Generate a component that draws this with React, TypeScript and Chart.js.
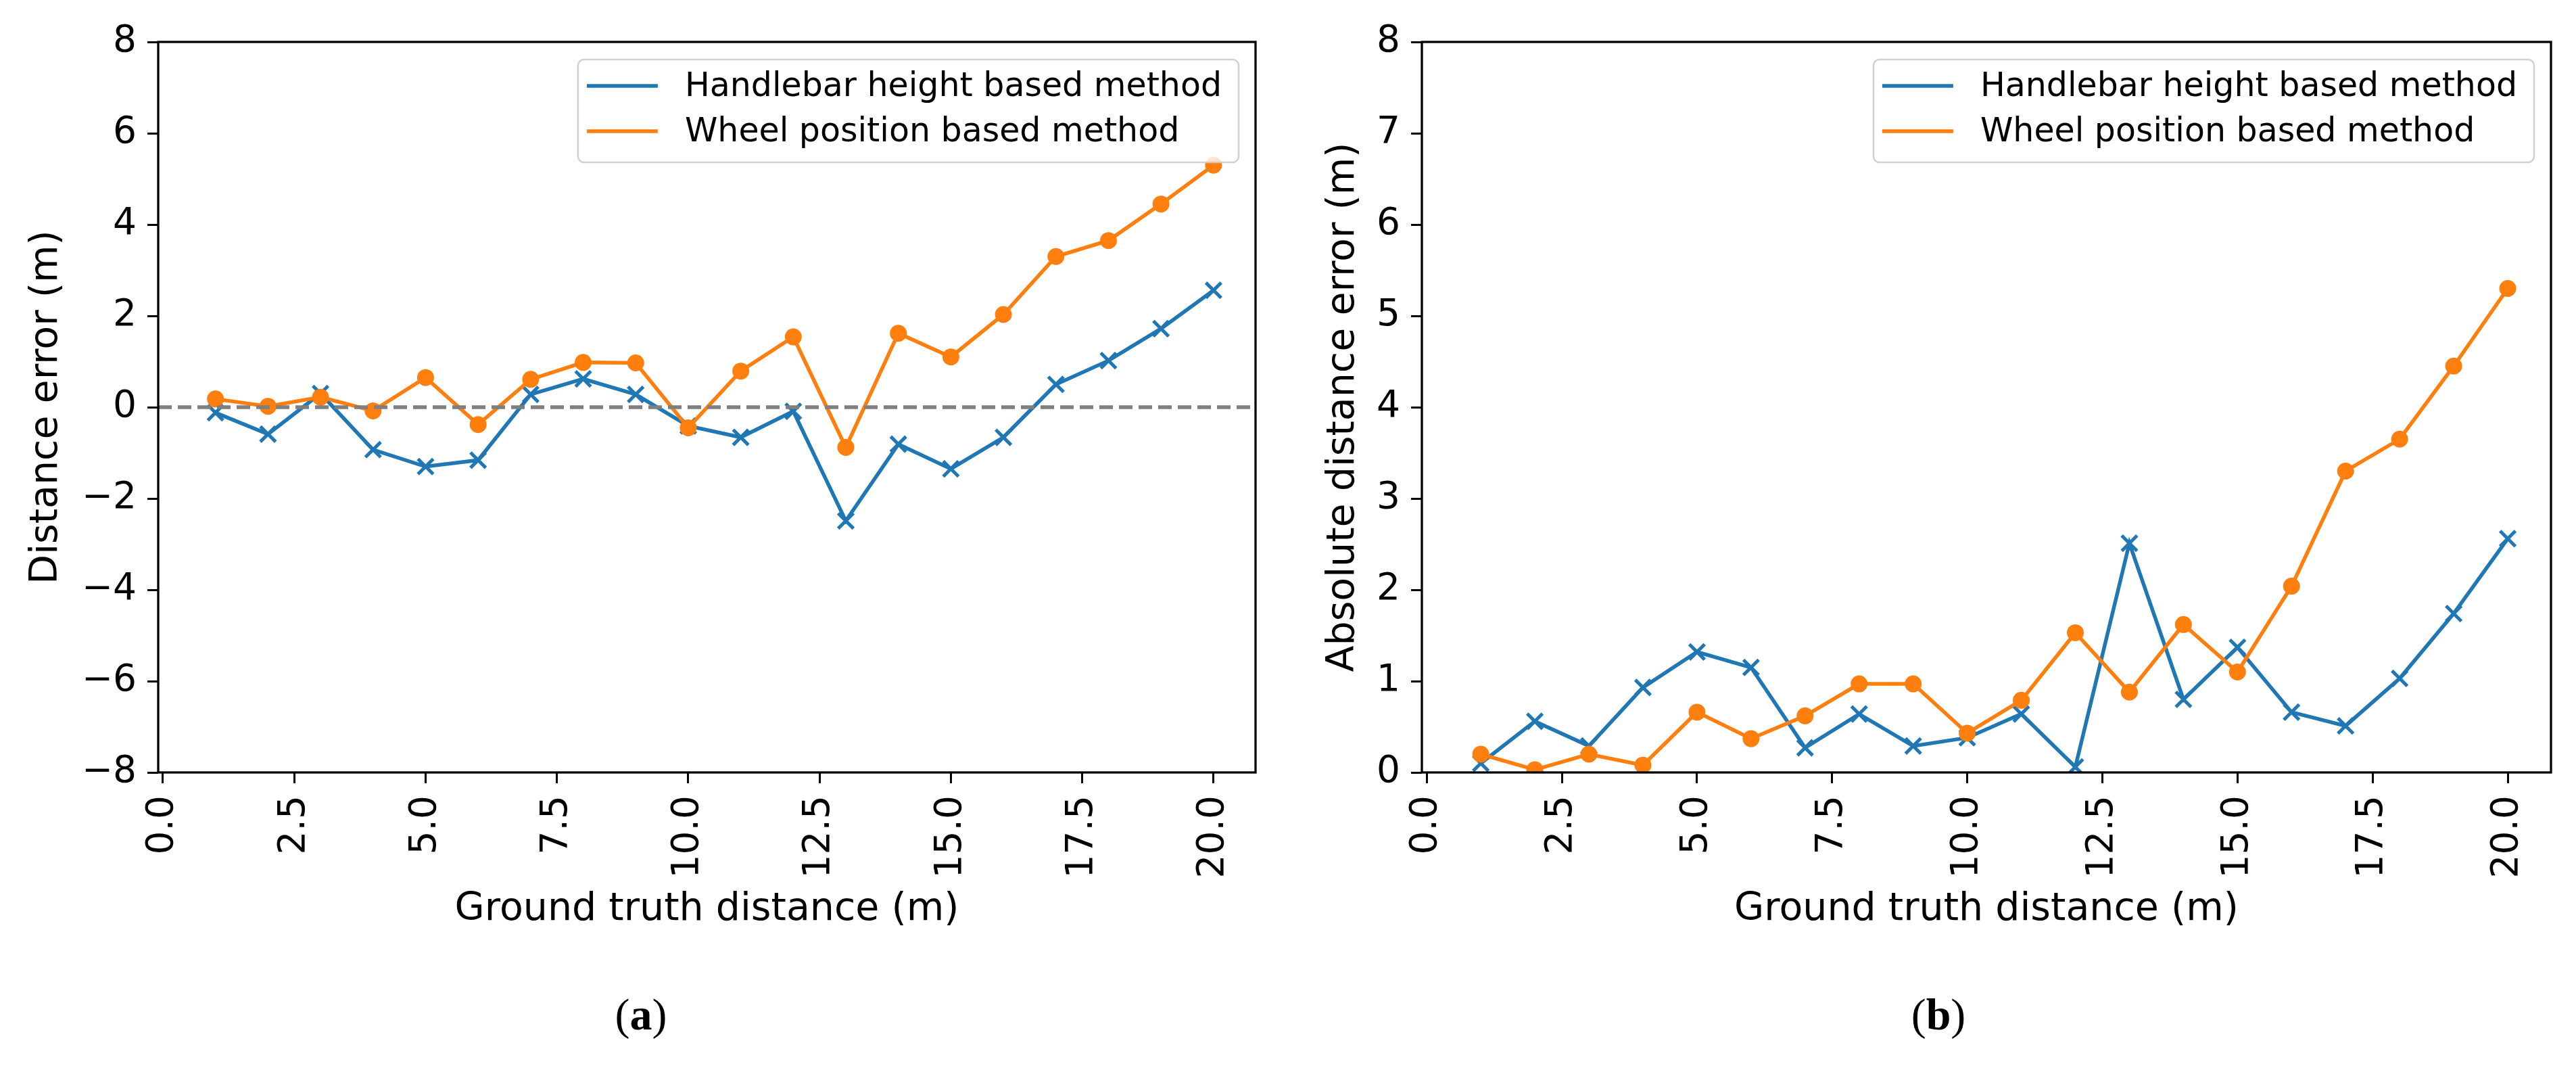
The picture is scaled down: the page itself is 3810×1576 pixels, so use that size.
import React, { useEffect, useRef } from 'react';
import { Chart, registerables } from 'chart.js';

Chart.register(...registerables);

// ---------- data ----------
const groundTruth = [1, 2, 3, 4, 5, 6, 7, 8, 9, 10, 11, 12, 13, 14, 15, 16, 17, 18, 19, 20];

// panel (a): signed distance error (m)
const handlebarError = [-0.12, -0.59, 0.3, -0.93, -1.3, -1.16, 0.28, 0.62, 0.28, -0.41, -0.66, -0.09, -2.49, -0.81, -1.35, -0.66, 0.5, 1.02, 1.72, 2.56];
const wheelError = [0.18, 0.02, 0.22, -0.08, 0.65, -0.38, 0.61, 0.98, 0.97, -0.45, 0.79, 1.54, -0.88, 1.62, 1.1, 2.03, 3.3, 3.65, 4.45, 5.3];

// panel (b): absolute distance error (m)
const handlebarAbsError = [0.1, 0.56, 0.29, 0.93, 1.32, 1.15, 0.27, 0.64, 0.29, 0.38, 0.64, 0.06, 2.51, 0.8, 1.37, 0.66, 0.51, 1.03, 1.74, 2.56];
const wheelAbsError = [0.2, 0.03, 0.2, 0.08, 0.66, 0.37, 0.62, 0.97, 0.97, 0.43, 0.79, 1.53, 0.88, 1.62, 1.1, 2.04, 3.3, 3.65, 4.45, 5.3];

const xTickValues = [0, 2.5, 5, 7.5, 10, 12.5, 15, 17.5, 20];
const xTickLabels = ['0.0', '2.5', '5.0', '7.5', '10.0', '12.5', '15.0', '17.5', '20.0'];

const yTicksA = [-8, -6, -4, -2, 0, 2, 4, 6, 8];
const yTickLabelsA = ['\u22128', '\u22126', '\u22124', '\u22122', '0', '2', '4', '6', '8'];
const yTicksB = [0, 1, 2, 3, 4, 5, 6, 7, 8];
const yTickLabelsB = ['0', '1', '2', '3', '4', '5', '6', '7', '8'];

const seriesNames = ['Handlebar height based method', 'Wheel position based method'];
const xAxisTitle = 'Ground truth distance (m)';
const yAxisTitleA = 'Distance error (m)';
const yAxisTitleB = 'Absolute distance error (m)';

// ---------- style ----------
const BLUE = '#1f77b4';
const ORANGE = '#ff7f0e';
const FONT = "'DejaVu Sans', sans-serif";
const X_MIN = -0.09;
const X_MAX = 20.8;
const CANVAS_H = 1450;
const PLOT_TOP = 62;
const PLOT_BOTTOM = 1142;

type PanelProps = {
  left: number;
  width: number;
  yAxisWidth: number;
  padRight: number;
  yTitlePad: number;
  yMin: number;
  yMax: number;
  yTicks: number[];
  yTickLabels: string[];
  yTitle: string;
  blue: number[];
  orange: number[];
  zeroLine: boolean;
};

function Panel(p: PanelProps) {
  const ref = useRef<HTMLCanvasElement>(null);
  useEffect(() => {
    const canvas = ref.current;
    if (!canvas) return;

    const framePlugin = {
      id: 'frame',
      afterDatasetsDraw(chart: any) {
        const { ctx, chartArea, scales } = chart;
        ctx.save();
        if (p.zeroLine) {
          const y0 = scales.y.getPixelForValue(0);
          ctx.strokeStyle = '#7f7f7f';
          ctx.lineWidth = 5.5;
          ctx.setLineDash([20, 9]);
          ctx.beginPath();
          ctx.moveTo(chartArea.left, y0);
          ctx.lineTo(chartArea.right, y0);
          ctx.stroke();
          ctx.setLineDash([]);
        }
        ctx.strokeStyle = '#000';
        ctx.lineWidth = 3.3;
        ctx.strokeRect(chartArea.left, chartArea.top, chartArea.right - chartArea.left, chartArea.bottom - chartArea.top);
        ctx.restore();
      },
    };

    const legendPlugin = {
      id: 'boxLegend',
      afterDraw(chart: any) {
        const { ctx, chartArea } = chart;
        ctx.save();
        ctx.font = `49px ${FONT}`;
        const colors = [BLUE, ORANGE];
        const tw = Math.max(...seriesNames.map((s) => ctx.measureText(s).width));
        const w = 158 + tw + 25;
        const h = 152;
        const x = chartArea.right - 25 - w;
        const y = chartArea.top + 26;
        ctx.beginPath();
        (ctx as any).roundRect(x, y, w, h, 9);
        ctx.fillStyle = 'rgba(255,255,255,0.8)';
        ctx.fill();
        ctx.strokeStyle = 'rgba(204,204,204,0.9)';
        ctx.lineWidth = 2.5;
        ctx.stroke();
        seriesNames.forEach((name, k) => {
          const cy = y + 39 + k * 67;
          ctx.strokeStyle = colors[k];
          ctx.lineWidth = 5.5;
          ctx.beginPath();
          ctx.moveTo(x + 13, cy);
          ctx.lineTo(x + 118, cy);
          ctx.stroke();
          ctx.fillStyle = '#000';
          ctx.textAlign = 'left';
          ctx.textBaseline = 'alphabetic';
          ctx.fillText(name, x + 158, y + 54 + k * 67);
        });
        ctx.restore();
      },
    };

    const tickFont = { family: FONT, size: 55 };
    const titleFont = { family: FONT, size: 57 };

    const chart = new Chart(canvas, {
      type: 'line',
      data: {
        datasets: [
          {
            label: seriesNames[1],
            data: groundTruth.map((x, i) => ({ x, y: p.orange[i] })),
            borderColor: ORANGE,
            backgroundColor: ORANGE,
            borderWidth: 5.5,
            pointStyle: 'circle',
            pointRadius: 12.5,
            pointBorderWidth: 0,
            pointBackgroundColor: ORANGE,
            tension: 0,
            clip: 0,
            order: 0,
          },
          {
            label: seriesNames[0],
            data: groundTruth.map((x, i) => ({ x, y: p.blue[i] })),
            borderColor: BLUE,
            backgroundColor: BLUE,
            borderWidth: 5.5,
            pointStyle: 'crossRot',
            pointRadius: 16,
            pointBorderWidth: 5,
            pointBorderColor: BLUE,
            tension: 0,
            clip: 0,
            order: 1,
          },
        ],
      },
      options: {
        animation: false,
        responsive: false,
        devicePixelRatio: 1,
        events: [],
        layout: { padding: { top: PLOT_TOP, right: p.padRight, left: 0, bottom: 0 } },
        plugins: { legend: { display: false }, tooltip: { enabled: false } },
        scales: {
          x: {
            type: 'linear',
            min: X_MIN,
            max: X_MAX,
            afterBuildTicks: (s: any) => {
              s.ticks = xTickValues.map((v) => ({ value: v }));
            },
            afterFit: (s: any) => {
              s.height = CANVAS_H - PLOT_BOTTOM;
            },
            ticks: {
              autoSkip: false,
              minRotation: 90,
              maxRotation: 90,
              padding: 18,
              color: '#000',
              font: tickFont,
              callback: (_v: any, i: number) => xTickLabels[i],
            },
            grid: {
              drawOnChartArea: false,
              drawTicks: true,
              tickLength: 16,
              tickWidth: 3,
              tickColor: '#000',
              color: '#000',
            },
            border: { display: false },
            title: {
              display: true,
              text: xAxisTitle,
              color: '#000',
              font: titleFont,
              padding: { top: 0, bottom: 71 },
            },
          },
          y: {
            type: 'linear',
            min: p.yMin,
            max: p.yMax,
            afterBuildTicks: (s: any) => {
              s.ticks = p.yTicks.map((v) => ({ value: v }));
            },
            afterFit: (s: any) => {
              s.width = p.yAxisWidth;
            },
            ticks: {
              autoSkip: false,
              padding: 16,
              color: '#000',
              font: tickFont,
              callback: (_v: any, i: number) => p.yTickLabels[i],
            },
            grid: {
              drawOnChartArea: false,
              drawTicks: true,
              tickLength: 16,
              tickWidth: 3,
              tickColor: '#000',
              color: '#000',
            },
            border: { display: false },
            title: {
              display: true,
              text: p.yTitle,
              color: '#000',
              font: titleFont,
              padding: { top: p.yTitlePad, bottom: 0 },
            },
          },
        },
      },
      plugins: [framePlugin, legendPlugin],
    } as any);
    return () => chart.destroy();
  }, []);
  return (
    <canvas
      ref={ref}
      width={p.width}
      height={CANVAS_H}
      style={{ position: 'absolute', left: p.left, top: 0, width: p.width, height: CANVAS_H }}
    />
  );
}

const subLabelStyle: React.CSSProperties = {
  position: 'absolute',
  top: 1500,
  transform: 'translate(-50%, -50%)',
  fontFamily: "'Liberation Serif', 'Times New Roman', serif",
  fontSize: 66,
  color: '#000',
  lineHeight: 1,
  whiteSpace: 'nowrap',
};

export default function App() {
  useEffect(() => {
    document.body.style.margin = '0';
    document.body.style.background = '#fff';
  }, []);
  return (
    <div style={{ position: 'relative', width: 3810, height: 1576, background: '#fff', overflow: 'hidden' }}>
      <Panel
        left={0}
        width={1900}
        yAxisWidth={234}
        padRight={43}
        yTitlePad={35}
        yMin={-8}
        yMax={8}
        yTicks={yTicksA}
        yTickLabels={yTickLabelsA}
        yTitle={yAxisTitleA}
        blue={handlebarError}
        orange={wheelError}
        zeroLine={true}
      />
      <Panel
        left={1900}
        width={1910}
        yAxisWidth={203}
        padRight={37}
        yTitlePad={53}
        yMin={0}
        yMax={8}
        yTicks={yTicksB}
        yTickLabels={yTickLabelsB}
        yTitle={yAxisTitleB}
        blue={handlebarAbsError}
        orange={wheelAbsError}
        zeroLine={false}
      />
      <div style={{ ...subLabelStyle, left: 948 }}>
        (<b>a</b>)
      </div>
      <div style={{ ...subLabelStyle, left: 2867 }}>
        (<b>b</b>)
      </div>
    </div>
  );
}
